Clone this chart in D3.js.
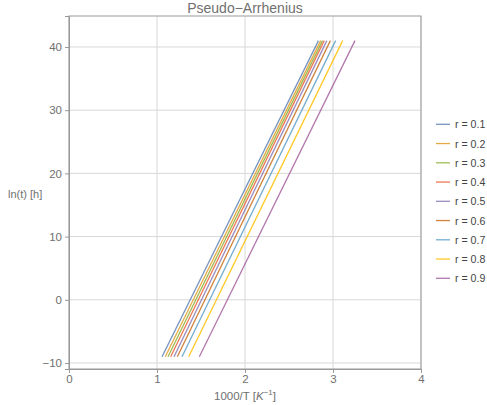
<!DOCTYPE html>
<html><head><meta charset="utf-8">
<script src="https://cdn.jsdelivr.net/npm/d3@7"></script>
<style>body{margin:0;background:#fff;font-family:"Liberation Sans",Arial,sans-serif;}</style>
</head><body><svg id="c" width="487" height="405"></svg>
<script>
const seriesNames = ["r = 0.1","r = 0.2","r = 0.3","r = 0.4","r = 0.5","r = 0.6","r = 0.7","r = 0.8","r = 0.9"];
const colors = ["#5E81B5","#E19C24","#8FB032","#EB6235","#8778B3","#C56E1A","#5D9EC7","#FFBF00","#A5609D"];
const yLow = -9, yHigh = 41;
const xAtLow  = [1.057, 1.094, 1.125, 1.155, 1.193, 1.231, 1.284, 1.360, 1.481];
const xAtHigh = [2.835, 2.860, 2.880, 2.900, 2.930, 2.970, 3.030, 3.110, 3.250];
const xTicks = [0,1,2,3,4];
const yTicks = [-10,0,10,20,30,40];

const svg = d3.select("#c");
const L=69, R=421, T=16, B=369;
const x = d3.scaleLinear().domain([0,4]).range([L,R]);
const y = d3.scaleLinear().domain([-10.95,44.9]).range([B,T]);
const gray="#707070";

// grid
svg.append("g").selectAll("line").data(xTicks).join("line")
  .attr("x1",d=>x(d)).attr("x2",d=>x(d)).attr("y1",T).attr("y2",B)
  .attr("stroke","#d8d8d8").attr("stroke-width",1);
svg.append("g").selectAll("line").data(yTicks).join("line")
  .attr("x1",L).attr("x2",R).attr("y1",d=>y(d)).attr("y2",d=>y(d))
  .attr("stroke","#d8d8d8").attr("stroke-width",1);

// lines
const line = d3.line().x(d=>x(d[0])).y(d=>y(d[1]));
seriesNames.forEach((n,i)=>{
  svg.append("path").datum([[xAtLow[i],yLow],[xAtHigh[i],yHigh]])
    .attr("d",line).attr("fill","none").attr("stroke",colors[i])
    .attr("stroke-width",1.3).attr("stroke-opacity",0.85);
});

// frame
svg.append("rect").attr("x",L).attr("y",T).attr("width",R-L).attr("height",B-T)
  .attr("fill","none").attr("stroke","#999").attr("stroke-width",1);

// axes
const xa = svg.append("g").attr("transform",`translate(0,${B})`)
  .call(d3.axisBottom(x).tickValues(xTicks).tickSize(4).tickPadding(2).tickFormat(d3.format("d")));
const ya = svg.append("g").attr("transform",`translate(${L},0)`)
  .call(d3.axisLeft(y).tickValues(yTicks).tickSize(4).tickPadding(3).tickFormat(d=>d<0?"\u2212"+(-d):d));
[xa,ya].forEach(a=>{
  a.select(".domain").attr("stroke","#999");
  a.selectAll(".tick line").attr("stroke","#999");
  a.selectAll(".tick text").attr("fill",gray).attr("font-size",11.5).attr("font-family","Liberation Sans, Arial, sans-serif");
});

// title
svg.append("text").attr("x",245).attr("y",13).attr("text-anchor","middle")
  .attr("fill",gray).attr("font-size",14).text("Pseudo\u2212Arrhenius");
// x label
const xl = svg.append("text").attr("x",245).attr("y",400).attr("text-anchor","middle")
  .attr("fill",gray).attr("font-size",11.5);
xl.append("tspan").text("1000/T [");
xl.append("tspan").attr("font-style","italic").text("K");
xl.append("tspan").attr("font-size",8).attr("dy",-5).text("\u22121");
xl.append("tspan").attr("dy",5).text("]");
// y label
svg.append("text").attr("x",8).attr("y",198).attr("fill",gray).attr("font-size",11).text("ln(t) [h]");

// legend
const lg = svg.append("g");
seriesNames.forEach((n,i)=>{
  const yy = 124.3 + i*19.25;
  lg.append("line").attr("x1",436).attr("x2",450).attr("y1",yy).attr("y2",yy)
    .attr("stroke",colors[i]).attr("stroke-width",1.3).attr("stroke-opacity",0.85);
  lg.append("text").attr("x",455).attr("y",yy+4).attr("fill","#444").attr("font-size",10.6).text(n);
});
</script></body></html>
